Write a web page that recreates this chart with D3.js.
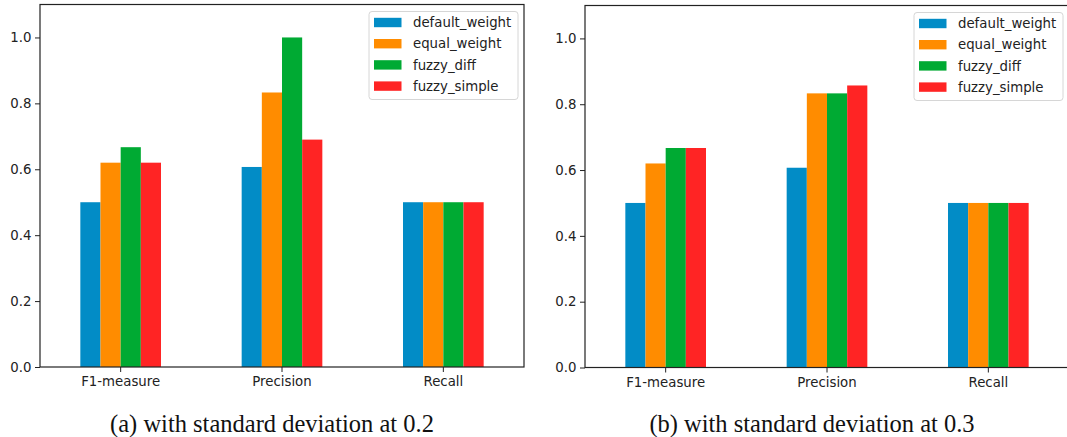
<!DOCTYPE html>
<html>
<head>
<meta charset="utf-8">
<script src="https://cdn.jsdelivr.net/npm/d3@7"></script>
<style>
  body { margin: 0; background: #fff; }
  svg { display: block; }
</style>
</head>
<body>
<svg id="chart" width="1067" height="437"></svg>
<script>
const categories = ["F1-measure", "Precision", "Recall"];
const seriesNames = ["default_weight", "equal_weight", "fuzzy_diff", "fuzzy_simple"];
const seriesColors = ["#028cc6", "#ff8c00", "#00aa33", "#ff2424"];

// (a) std dev 0.2
const defaultWeightA = [0.5, 0.607, 0.5];
const equalWeightA = [0.62, 0.833, 0.5];
const fuzzyDiffA = [0.667, 1.0, 0.5];
const fuzzySimpleA = [0.62, 0.69, 0.5];

// (b) std dev 0.3
const defaultWeightB = [0.5, 0.607, 0.5];
const equalWeightB = [0.62, 0.833, 0.5];
const fuzzyDiffB = [0.667, 0.833, 0.5];
const fuzzySimpleB = [0.667, 0.857, 0.5];

const yTicks = [0, 0.2, 0.4, 0.6, 0.8, 1.0];
const captions = ["(a) with standard deviation at 0.2", "(b) with standard deviation at 0.3"];

const svg = d3.select("#chart");
const tickFont = "DejaVu Sans, sans-serif";
const axisColor = "#222";

const drawPanel = (box, series, caption) => {
  const g = svg.append("g");

  const x = d3.scaleBand()
    .domain(categories)
    .range([box.left, box.right])
    .paddingInner(0.5)
    .paddingOuter(0.25);

  const xs = d3.scaleBand()
    .domain(seriesNames)
    .range([0, x.bandwidth()])
    .padding(0);

  const y = d3.scaleLinear()
    .domain([0, 1.1])
    .range([box.bottom, box.top]);

  // bars
  series.forEach(function(vals, j) {
    g.append("g")
      .selectAll("rect")
      .data(vals)
      .enter()
      .append("rect")
      .attr("x", function(d, i) { return x(categories[i]) + xs(seriesNames[j]); })
      .attr("y", function(d) { return y(d); })
      .attr("width", xs.bandwidth())
      .attr("height", function(d) { return y(0) - y(d); })
      .attr("fill", seriesColors[j]);
  });

  // frame
  g.append("rect")
    .attr("x", box.left)
    .attr("y", box.top)
    .attr("width", box.right - box.left)
    .attr("height", box.bottom - box.top)
    .attr("fill", "none")
    .attr("stroke", axisColor)
    .attr("stroke-width", 1.2);

  const yAxis = g.append("g")
    .attr("transform", "translate(" + box.left + ",0)")
    .call(d3.axisLeft(y).tickValues(yTicks).tickFormat(d3.format(".1f")).tickSize(5).tickPadding(3.5));

  const xAxis = g.append("g")
    .attr("transform", "translate(0," + box.bottom + ")")
    .call(d3.axisBottom(x).tickSize(5).tickPadding(5));

  [xAxis, yAxis].forEach(function(ax) {
    ax.select(".domain").remove();
    ax.selectAll("line").attr("stroke", axisColor).attr("stroke-width", 1);
    ax.selectAll("text")
      .attr("fill", axisColor)
      .style("font-family", tickFont)
      .style("font-size", "13.3px");
  });

  // legend
  const lw = 149, lh = 88;
  const lx = box.right - 6 - lw;
  const ly = box.top + 7;
  const legend = g.append("g").attr("transform", "translate(" + lx + "," + ly + ")");
  legend.append("rect")
    .attr("width", lw)
    .attr("height", lh)
    .attr("rx", 3)
    .attr("fill", "rgba(255,255,255,0.8)")
    .attr("stroke", "#d6d6d6")
    .attr("stroke-width", 1);
  const rows = legend.selectAll("g.row")
    .data(seriesNames)
    .enter()
    .append("g")
    .attr("class", "row")
    .attr("transform", function(d, i) { return "translate(0," + (11 + i * 21.2) + ")"; });
  rows.append("rect")
    .attr("x", 5)
    .attr("y", -4.7)
    .attr("width", 27.5)
    .attr("height", 9.4)
    .attr("fill", function(d, i) { return seriesColors[i]; });
  rows.append("text")
    .attr("x", 44)
    .attr("y", 0)
    .attr("dy", "0.35em")
    .attr("fill", axisColor)
    .style("font-family", tickFont)
    .style("font-size", "13.3px")
    .text(function(d) { return d; });

  // caption
  svg.append("text")
    .attr("x", box.captionX)
    .attr("y", 431.5)
    .attr("text-anchor", "middle")
    .attr("fill", "#111")
    .style("font-family", "Liberation Serif, Times New Roman, serif")
    .style("font-size", "24.5px")
    .text(caption);
};

drawPanel(
  { left: 40, right: 524, top: 4.5, bottom: 367, captionX: 272 },
  [defaultWeightA, equalWeightA, fuzzyDiffA, fuzzySimpleA],
  captions[0]
);
drawPanel(
  { left: 585, right: 1069, top: 5.5, bottom: 367.5, captionX: 812 },
  [defaultWeightB, equalWeightB, fuzzyDiffB, fuzzySimpleB],
  captions[1]
);
</script>
</body>
</html>
